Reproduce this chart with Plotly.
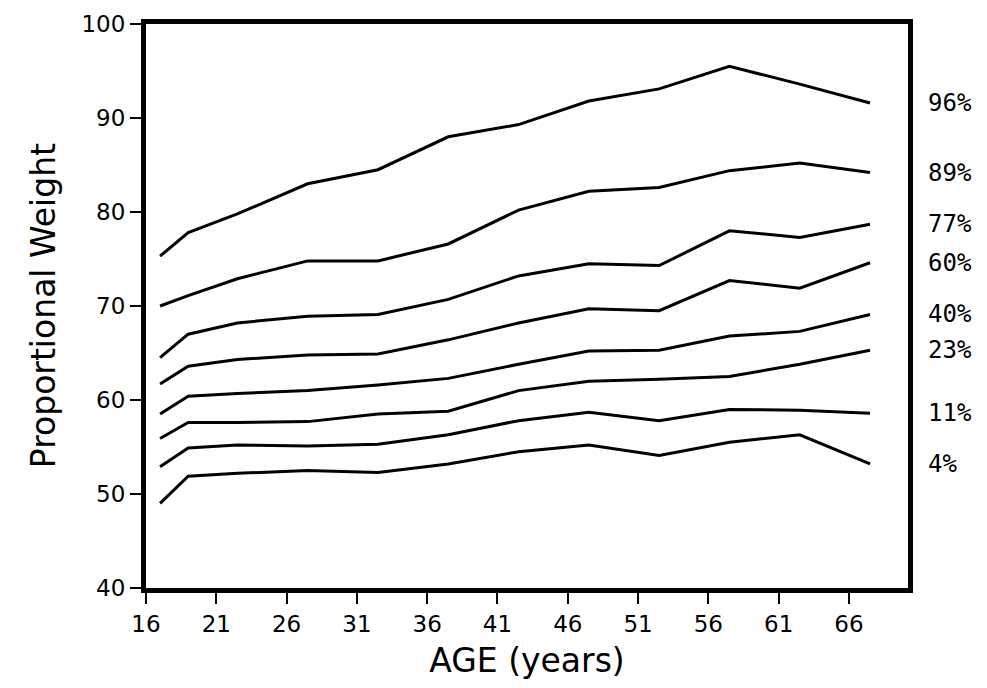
import plotly.graph_objects as go

ages = [17, 19, 22.5, 27.5, 32.5, 37.5, 42.5, 47.5, 52.5, 57.5, 62.5, 67.5]
percentile_labels = ["96%", "89%", "77%", "60%", "40%", "23%", "11%", "4%"]
p96 = [75.3, 77.8, 79.8, 83.0, 84.5, 88.0, 89.3, 91.8, 93.1, 95.5, 93.6, 91.6]
p89 = [70.0, 71.1, 72.9, 74.8, 74.8, 76.6, 80.2, 82.2, 82.6, 84.4, 85.2, 84.2]
p77 = [64.5, 67.0, 68.2, 68.9, 69.1, 70.7, 73.2, 74.5, 74.3, 78.0, 77.3, 78.7]
p60 = [61.7, 63.6, 64.3, 64.8, 64.9, 66.4, 68.2, 69.7, 69.5, 72.7, 71.9, 74.6]
p40 = [58.5, 60.4, 60.7, 61.0, 61.6, 62.3, 63.8, 65.2, 65.3, 66.8, 67.3, 69.1]
p23 = [55.9, 57.6, 57.6, 57.7, 58.5, 58.8, 61.0, 62.0, 62.2, 62.5, 63.8, 65.3]
p11 = [52.9, 54.9, 55.2, 55.1, 55.3, 56.3, 57.8, 58.7, 57.8, 59.0, 58.9, 58.6]
p04 = [49.0, 51.9, 52.2, 52.5, 52.3, 53.2, 54.5, 55.2, 54.1, 55.5, 56.3, 53.2]
series = [p96, p89, p77, p60, p40, p23, p11, p04]

x_ticks = [16, 21, 26, 31, 36, 41, 46, 51, 56, 61, 66]
y_ticks = [40, 50, 60, 70, 80, 90, 100]

fig = go.Figure()
for name, vals in zip(percentile_labels, series):
    fig.add_trace(go.Scatter(x=ages, y=vals, mode="lines", name=name,
                             line=dict(color="black", width=3), showlegend=False))
    fig.add_annotation(x=1.024, xref="paper", y=vals[-1], yref="y", text=name,
                       showarrow=False, xanchor="left", yanchor="middle",
                       font=dict(family="DejaVu Sans Mono", size=24, color="black"))

fig.add_annotation(x=-0.135, xref="paper", y=0.5, yref="paper", text="Proportional Weight",
                   textangle=-90, showarrow=False, xanchor="center", yanchor="middle",
                   font=dict(family="DejaVu Sans", size=33, color="black"))

axis_common = dict(showline=True, linecolor="black", linewidth=5, mirror=True,
                   ticks="outside", ticklen=11, tickwidth=1.5, tickcolor="black",
                   showgrid=False, zeroline=False, automargin=False,
                   tickfont=dict(family="DejaVu Sans", size=23, color="black"))

fig.update_xaxes(range=[16, 70.2], tickvals=x_ticks,
                 title=dict(text="AGE (years)", font=dict(family="DejaVu Sans", size=33, color="black")),
                 **axis_common)
fig.update_yaxes(range=[40, 100], tickvals=y_ticks, **axis_common)

fig.update_layout(width=987, height=688, plot_bgcolor="white", paper_bgcolor="white",
                  margin=dict(l=138, r=87, t=16, b=108))

fig.write_html("out.html")
